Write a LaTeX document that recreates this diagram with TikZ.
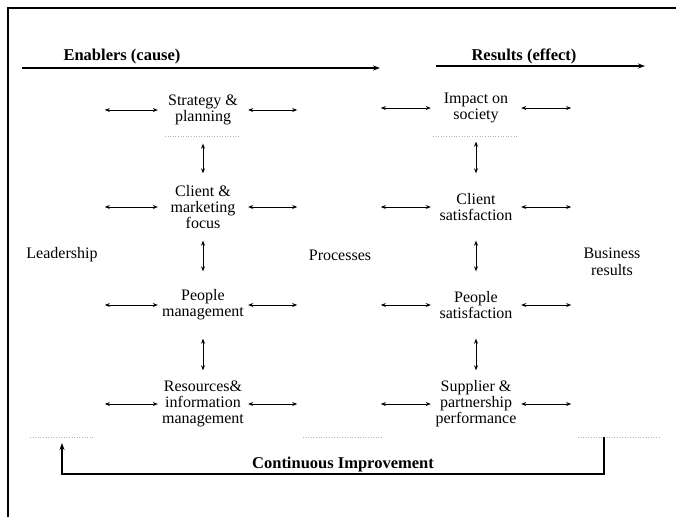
\documentclass[tikz,border=0pt]{standalone}
\usepackage{fontspec}
\setmainfont{Liberation Serif}
\usetikzlibrary{arrows.meta}

\begin{document}
\begin{tikzpicture}[x=1pt,y=-1pt,
  box/.style={align=center,minimum width=90pt,minimum height=48pt,inner sep=0pt,font=\fontsize{16}{16}\selectfont},
  lab/.style={align=center,inner sep=0pt,font=\fontsize{16}{17}\selectfont},
  head/.style={inner sep=0pt,font=\fontsize{16.5}{18}\selectfont\bfseries},
  dbl/.style={{Stealth[length=5pt,width=4pt]}-{Stealth[length=5pt,width=4pt]},line width=0.8pt},
  vdbl/.style={dbl,shorten <=9.5pt,shorten >=9.5pt},
  flow/.style={-{Stealth[length=7pt,width=5pt]},line width=1.2pt},
  faint/.style={gray!60,dotted,line width=0.6pt}]

\useasboundingbox (0,0) rectangle (676,517);
\draw[line width=2pt] (8,517) -- (8,8) -- (676,8);

\node[head] (h1) at (122,57) {Enablers (cause)};
\node[head] (h2) at (524,56) {Results (effect)};
\coordinate (h1a) at (22,68);
\coordinate (h1b) at (380,68);
\coordinate (h2a) at (436,66);
\coordinate (h2b) at (645,66);
\path[flow] (h1a) edge (h1b) (h2a) edge (h2b);

\node[box] (e1) at (203,110) {Strategy \&\\planning};
\node[box] (e2) at (203,207) {Client \&\\marketing\\focus};
\node[box] (e3) at (203,305) {People\\management};
\node[box] (e4) at (203,404) {Resources\&\\information\\management};

\node[box] (r1) at (476,108) {Impact on\\society};
\node[box] (r2) at (476,207) {Client\\satisfaction};
\node[box] (r3) at (476,305) {People\\satisfaction};
\node[box] (r4) at (476,404) {Supplier \&\\partnership\\performance};

\node[lab] (s1) at (62,255) {Leadership};
\node[lab] (s2) at (340,255) {Processes};
\node[lab] (s3) at (612,262) {Business\\results};

\foreach \i in {1,...,4}{
  \coordinate (ea\i) at ([xshift=-53pt]e\i.west);
  \coordinate (eb\i) at ([xshift=49pt]e\i.east);
  \coordinate (ra\i) at ([xshift=-50pt]r\i.west);
  \coordinate (rb\i) at ([xshift=50pt]r\i.east);
  \path[dbl] (ea\i) edge (e\i.west) (e\i.east) edge (eb\i) (ra\i) edge (r\i.west) (r\i.east) edge (rb\i);
}

\path[vdbl] (e1) edge (e2) (e2) edge (e3) (e3) edge (e4) (r1) edge (r2) (r2) edge (r3) (r3) edge (r4);

\draw[faint] (165,136) -- (238,136) (433,136) -- (518,136);
\draw[faint] (30,437) -- (95,437) (303,437) -- (382,437) (578,437) -- (660,437);

\node[head] (ci) at (343,465) {Continuous Improvement};
\coordinate (fbs) at (604,437);
\coordinate (fbe) at (62,443);
\draw[flow] (fbs) -- (604,474) -| (fbe);

\end{tikzpicture}
\end{document}
